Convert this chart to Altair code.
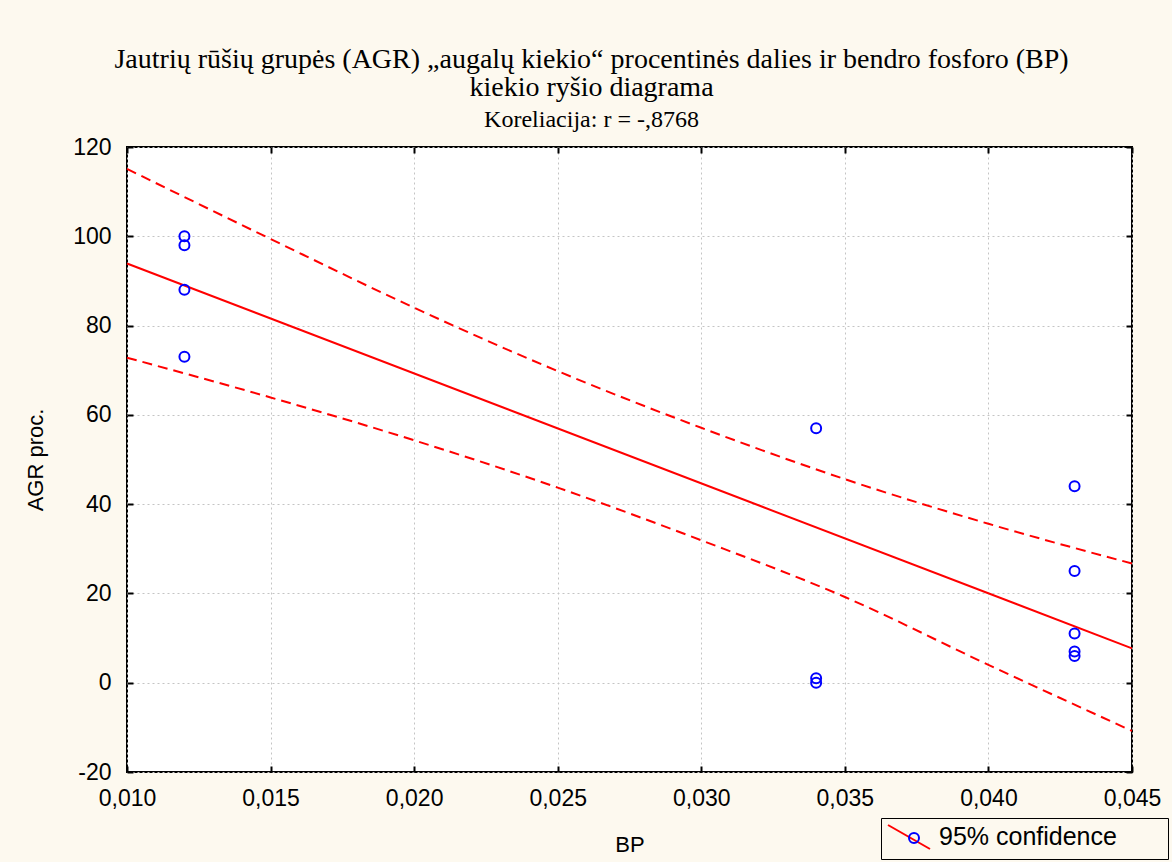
import altair as alt
import pandas as pd

# ---- data ----
bp = [0.012, 0.012, 0.012, 0.012, 0.034, 0.034, 0.034, 0.043, 0.043, 0.043, 0.043, 0.043]
agr = [100, 98, 88, 73, 57, 1, 0, 44, 25, 11, 7, 6]

fit_bp = [0.010, 0.045]
fit_agr = [93.9, 7.7]

band_bp = [0.010, 0.015, 0.020, 0.025, 0.030, 0.035, 0.040, 0.045]
band_upper = [115.1, 99.4, 84.0, 69.8, 57.1, 45.6, 35.6, 26.7]
band_lower = [72.8, 63.9, 54.3, 43.7, 31.9, 19.2, 4.0, -10.8]

x_ticks = [0.010, 0.015, 0.020, 0.025, 0.030, 0.035, 0.040, 0.045]
y_ticks = [-20, 0, 20, 40, 60, 80, 100, 120]

title_lines = [
    "Jautrių rūšių grupės (AGR) „augalų kiekio“ procentinės dalies ir bendro fosforo (BP)",
    "kiekio ryšio diagrama",
]
subtitle_text = "Koreliacija: r = -,8768"
x_title = "BP"
y_title = "AGR proc."
legend_label = "95% confidence"

# ---- tables ----
df_pts = pd.DataFrame({"bp": bp, "agr": agr})
df_fit = pd.DataFrame({"bp": fit_bp, "agr": fit_agr})
df_band = pd.DataFrame({"bp": band_bp, "upper": band_upper, "lower": band_lower})

BG = "#fdf9ef"
SANS = "Liberation Sans"
SERIF = "Liberation Serif"

xs = alt.Scale(domain=[0.010, 0.045], nice=False, zero=False)
ys = alt.Scale(domain=[-20, 120], nice=False, zero=False)

grid_x = alt.Axis(orient="bottom", values=x_ticks, grid=True, gridColor="#c4c4c4",
                  gridDash=[2, 3], gridWidth=1, ticks=False, labels=False,
                  domain=False, title=None)
grid_y = alt.Axis(orient="left", values=y_ticks, grid=True, gridColor="#c4c4c4",
                  gridDash=[2, 3], gridWidth=1, ticks=False, labels=False,
                  domain=False, title=None)

x_label_expr = "replace(format(datum.value, '.3f'), '.', ',')"
main_x = alt.Axis(orient="bottom", values=x_ticks, offset=-6, grid=False, domain=False,
                  ticks=True, tickSize=6, tickWidth=2, tickColor="black",
                  labelExpr=x_label_expr, labelFont=SANS, labelFontSize=23,
                  labelColor="black", labelPadding=15, labelFlush=False,
                  labelOverlap=False, title=x_title, titleFont=SANS, titleFontSize=22,
                  titleFontWeight="normal", titleColor="black", titlePadding=24)
main_y = alt.Axis(orient="left", values=y_ticks, offset=-6, grid=False, domain=False,
                  ticks=True, tickSize=6, tickWidth=2, tickColor="black",
                  labelExpr="'' + datum.value", labelFont=SANS, labelFontSize=23,
                  labelColor="black", labelPadding=16, labelFlush=False,
                  labelOverlap=False, title=y_title, titleFont=SANS, titleFontSize=22,
                  titleFontWeight="normal", titleColor="black", titlePadding=25)
mirror_x = alt.Axis(orient="top", values=x_ticks, offset=-6, grid=False, domain=False,
                    ticks=True, tickSize=6, tickWidth=2, tickColor="black",
                    labels=False, title=None)
mirror_y = alt.Axis(orient="right", values=y_ticks, offset=-6, grid=False, domain=False,
                    ticks=True, tickSize=6, tickWidth=2, tickColor="black",
                    labels=False, title=None)

upper = alt.Chart(df_band).mark_line(color="#ff0000", strokeWidth=2, strokeDash=[10, 6],
                                     interpolate="monotone").encode(
    x=alt.X("bp:Q", scale=xs, axis=mirror_x),
    y=alt.Y("upper:Q", scale=ys, axis=mirror_y),
)
lower = alt.Chart(df_band).mark_line(color="#ff0000", strokeWidth=2, strokeDash=[10, 6],
                                     interpolate="monotone").encode(
    x=alt.X("bp:Q", scale=xs, axis=None),
    y=alt.Y("lower:Q", scale=ys, axis=None),
)
fit = alt.Chart(df_fit).transform_calculate(s=f"'{legend_label}'").mark_line(
    strokeWidth=2).encode(
    x=alt.X("bp:Q", scale=xs, axis=main_x),
    y=alt.Y("agr:Q", scale=ys, axis=main_y),
    stroke=alt.Stroke("s:N", scale=alt.Scale(domain=[legend_label], range=["#ff0000"]),
                      legend=alt.Legend(orient="none", legendX=754, legendY=671,
                                        title="MMM", titleOrient="right",
                                        titleColor="transparent", titleFontSize=14,
                                        titlePadding=10,
                                        symbolType="M-1.75,-1L1.75,1", symbolSize=576,
                                        symbolStrokeWidth=2, symbolOffset=9,
                                        labelFont=SANS, labelFontSize=25, labelColor="black",
                                        labelLimit=0, labelOffset=17, padding=6,
                                        strokeColor="black", fillColor=BG, cornerRadius=0)),
)
points = alt.Chart(df_pts).transform_calculate(k="'o'").mark_point(
    filled=False, color="#0000ff", strokeWidth=2, size=100, opacity=1).encode(
    x=alt.X("bp:Q", scale=xs, axis=grid_x),
    y=alt.Y("agr:Q", scale=ys, axis=grid_y),
    shape=alt.Shape("k:N", scale=alt.Scale(domain=["o"], range=["circle"]),
                    legend=alt.Legend(orient="none", legendX=781, legendY=685, title=None,
                                      symbolSize=100, symbolStrokeColor="#0000ff",
                                      symbolFillColor="transparent", symbolStrokeWidth=2,
                                      labelExpr="''", labelFontSize=1, labelOffset=0,
                                      padding=0)),
)

chart = alt.layer(upper, lower, fit, points).resolve_axis(
    x="independent", y="independent"
).resolve_legend(stroke="independent", shape="independent").properties(
    width=1005,
    height=625,
    padding={"left": 127, "top": 147, "right": 40, "bottom": 90},
    autosize=alt.AutoSizeParams(type="none"),
    title=alt.TitleParams(text=title_lines, subtitle=subtitle_text, font=SERIF, fontSize=28,
                          fontWeight="normal", color="black", lineHeight=28,
                          subtitleFont=SERIF, subtitleFontSize=24, subtitleColor="black",
                          subtitlePadding=6, anchor="middle", frame="group", dx=-38,
                          offset=4),
).configure(background=BG).configure_view(
    stroke="black", strokeWidth=2, fill="white"
).configure_legend(labelFont=SANS)

chart.save("out.html", embed_options={"renderer": "svg", "actions": False})
